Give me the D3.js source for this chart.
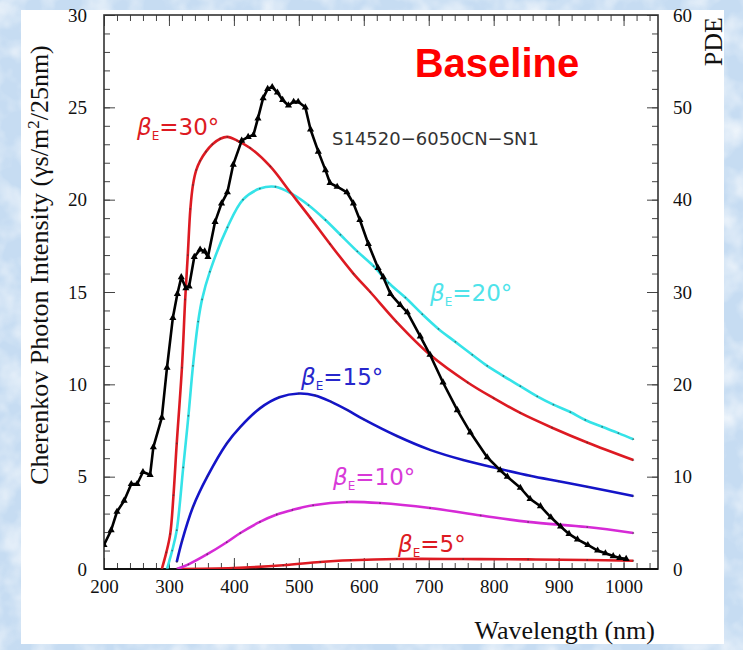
<!DOCTYPE html>
<html>
<head>
<meta charset="utf-8">
<script src="https://cdn.jsdelivr.net/npm/d3@7"></script>
<style>
  html, body { margin: 0; padding: 0; background: #cfe2f4; }
  svg { display: block; }
</style>
</head>
<body>
<svg id="chart" width="743" height="650"></svg>
<script>
// Wavelength tick values (nm)
const wavelengthMajor = [200, 300, 400, 500, 600, 700, 800, 900, 1000];
const intensityMajor = [0, 5, 10, 15, 20, 25, 30];
const pdeMajor = [0, 10, 20, 30, 40, 50, 60];

// Cherenkov photon intensity per elevation angle: [wavelength nm, photons/m2/25nm]
const beta30 = [[289,0],[296,0.9],[302,1.9],[307,4.0],[312,6.8],[320,10.9],[325,14.6],[329,17.0],[333,19.5],[337,20.8],[342,21.6],[348,22.1],[357,22.6],[367,23.0],[379,23.3],[390,23.4],[405,23.2],[425,22.8],[456,21.8],[487,20.4],[518,19.0],[548,17.6],[584,16.0],[610,15.0],[650,13.4],[702,11.6],[760,10.1],[800,9.25],[841,8.45],[890,7.65],[944,6.85],[1015,5.9]];
const beta20 = [[297,0],[305,1.0],[312,2.1],[322,5.5],[330,8.3],[337,11.0],[345,13.4],[351,14.6],[363,16.1],[390,18.5],[414,20.0],[440,20.6],[464,20.7],[490,20.3],[515,19.7],[541,18.9],[564,18.1],[590,17.2],[615,16.4],[638,15.5],[664,14.7],[690,13.8],[715,13.0],[741,12.3],[767,11.6],[790,11.0],[815,10.45],[841,9.9],[867,9.35],[892,8.9],[918,8.5],[941,8.07],[967,7.7],[992,7.36],[1015,7.03]];
const beta15 = [[312,0.38],[320,1.5],[337,3.36],[359,5.0],[389,6.8],[410,7.7],[440,8.7],[470,9.3],[500,9.5],[525,9.4],[550,9.05],[575,8.6],[600,8.1],[651,7.2],[702,6.45],[753,5.9],[806,5.45],[856,5.05],[900,4.75],[944,4.45],[1015,3.95]];
const beta10 = [[312,0],[330,0.25],[359,0.8],[389,1.45],[410,1.95],[440,2.55],[466,2.95],[490,3.2],[522,3.45],[574,3.63],[625,3.57],[702,3.3],[780,2.9],[853,2.55],[944,2.27],[1015,1.95]];
const beta5 = [[312,0],[399,0.05],[476,0.2],[533,0.38],[580,0.47],[651,0.54],[753,0.54],[853,0.52],[944,0.49],[1015,0.45]];

// Photon detection efficiency of S14520-6050CN-SN1: [wavelength nm, PDE %]
const pde = [[200,2.6],[211,4.2],[220,6.2],[231,7.4],[242,9.2],[251,9.2],[260,10.5],[271,10.2],[276,13.2],[289,16.4],[297,21.8],[306,27.2],[313,29.8],[319,31.6],[326,30.4],[331,30.6],[339,33.8],[348,34.6],[355,34.4],[360,33.8],[371,37.6],[381,39.6],[390,40.8],[399,43.8],[412,46.4],[422,46.8],[430,47.0],[437,48.8],[445,51.0],[452,52.0],[459,52.2],[467,51.6],[475,50.8],[484,50.2],[492,50.6],[499,50.6],[510,50.0],[518,47.6],[530,45.2],[541,43.2],[548,41.8],[559,41.4],[574,40.8],[584,39.6],[594,37.8],[607,35.2],[622,32.6],[630,31.6],[641,29.8],[656,28.6],[667,27.8],[687,25.2],[702,23.2],[722,20.2],[744,17.2],[764,14.8],[790,12.1],[810,10.7],[821,10.0],[841,8.8],[856,7.6],[872,6.8],[888,5.6],[903,4.6],[916,3.8],[929,3.2],[945,2.6],[960,2.0],[972,1.7],[984,1.4],[994,1.2],[1004,1.1]];

const svg = d3.select("#chart");
const W = 743, H = 650;
const m = { left: 104, right: 658, top: 15, bottom: 569 };

// textured light-blue backdrop
const defs = svg.append("defs");
const tex = defs.append("filter").attr("id", "paper").attr("x", 0).attr("y", 0).attr("width", 1).attr("height", 1);
tex.append("feTurbulence").attr("type", "fractalNoise").attr("baseFrequency", 0.035).attr("numOctaves", 3).attr("seed", 4).attr("result", "n");
tex.append("feColorMatrix").attr("in", "n").attr("type", "matrix")
  .attr("values", "0 0 0 0 1  0 0 0 0 1  0 0 0 0 1  1.6 0 0 0 -0.62");
svg.append("rect").attr("width", W).attr("height", H).attr("fill", "#c6dcf2");
svg.append("rect").attr("width", W).attr("height", H).attr("filter", "url(#paper)").attr("opacity", 0.85);

// white chart panel
svg.append("rect").attr("x", 21).attr("y", 10).attr("width", 703).attr("height", 634).attr("fill", "#fff");

const x = d3.scaleLinear().domain([200, 1053]).range([m.left, m.right]);
const y = d3.scaleLinear().domain([0, 30]).range([m.bottom, m.top]);
const y2 = d3.scaleLinear().domain([0, 60]).range([m.bottom, m.top]);

defs.append("clipPath").attr("id", "plot").append("rect")
  .attr("x", m.left).attr("y", m.top).attr("width", m.right - m.left).attr("height", m.bottom - m.top);

const serif = "'Liberation Serif', 'Times New Roman', serif";
const minorX = d3.range(200, 1053, 20);
const minorY = d3.range(0, 30.01, 1);
const minorY2 = d3.range(0, 60.01, 2);

function styleAxis(g, withText) {
  g.select(".domain").remove();
  g.selectAll("line").attr("stroke", "#444").attr("stroke-width", 1);
  g.selectAll("text").attr("font-family", serif).attr("font-size", 19).attr("fill", "#111");
  if (!withText) g.selectAll("text").remove();
}

// bottom axis
svg.append("g").attr("transform", `translate(0,${m.bottom})`)
  .call(d3.axisBottom(x).tickValues(minorX).tickSize(-6).tickFormat(""))
  .call(g => styleAxis(g, false));
svg.append("g").attr("transform", `translate(0,${m.bottom})`)
  .call(d3.axisBottom(x).tickValues(wavelengthMajor).tickSize(-11).tickPadding(11).tickFormat(d3.format("d")))
  .call(g => styleAxis(g, true));
// top axis
svg.append("g").attr("transform", `translate(0,${m.top})`)
  .call(d3.axisTop(x).tickValues(minorX).tickSize(-6).tickFormat(""))
  .call(g => styleAxis(g, false));
svg.append("g").attr("transform", `translate(0,${m.top})`)
  .call(d3.axisTop(x).tickValues(wavelengthMajor).tickSize(-11).tickFormat(""))
  .call(g => styleAxis(g, false));
// left axis
svg.append("g").attr("transform", `translate(${m.left},0)`)
  .call(d3.axisLeft(y).tickValues(minorY).tickSize(-6).tickFormat(""))
  .call(g => styleAxis(g, false));
svg.append("g").attr("transform", `translate(${m.left},0)`)
  .call(d3.axisLeft(y).tickValues(intensityMajor).tickSize(-11).tickPadding(17).tickFormat(d3.format("d")))
  .call(g => styleAxis(g, true));
// right axis (PDE)
svg.append("g").attr("transform", `translate(${m.right},0)`)
  .call(d3.axisRight(y2).tickValues(minorY2).tickSize(-6).tickFormat(""))
  .call(g => styleAxis(g, false));
svg.append("g").attr("transform", `translate(${m.right},0)`)
  .call(d3.axisRight(y2).tickValues(pdeMajor).tickSize(-11).tickPadding(15).tickFormat(d3.format("d")))
  .call(g => styleAxis(g, true));

// frame
svg.append("rect").attr("x", m.left).attr("y", m.top)
  .attr("width", m.right - m.left).attr("height", m.bottom - m.top)
  .attr("fill", "none").attr("stroke", "#333").attr("stroke-width", 1.6);
svg.append("line").attr("x1", m.left).attr("x2", m.right).attr("y1", m.bottom).attr("y2", m.bottom)
  .attr("stroke", "#111").attr("stroke-width", 2.2);

const plot = svg.append("g").attr("clip-path", "url(#plot)");

const smooth = d3.line().x(d => x(d[0])).y(d => y(d[1])).curve(d3.curveCatmullRom.alpha(0.5));
const series = [
  { data: beta5, color: "#dd1a22" },
  { data: beta10, color: "#d62ad6" },
  { data: beta15, color: "#1414c8" },
  { data: beta20, color: "#35e3e8" },
  { data: beta30, color: "#dd1a22" }
];
series.forEach(s => {
  plot.append("path").datum(s.data).attr("d", smooth)
    .attr("fill", "none").attr("stroke", s.color).attr("stroke-width", 2.6)
    .attr("stroke-linejoin", "round");
  plot.append("g").selectAll("circle").data(s.data).join("circle")
    .attr("cx", d => x(d[0])).attr("cy", d => y(d[1])).attr("r", 0.9)
    .attr("fill", "#333").attr("opacity", 0.6);
});

// PDE curve with triangle markers
const pdeLine = d3.line().x(d => x(d[0])).y(d => y2(d[1]));
plot.append("path").datum(pde).attr("d", pdeLine)
  .attr("fill", "none").attr("stroke", "#000").attr("stroke-width", 2.6).attr("stroke-linejoin", "round");
plot.append("g").selectAll("path").data(pde).join("path")
  .attr("transform", d => `translate(${x(d[0])},${y2(d[1])})`)
  .attr("d", d3.symbol(d3.symbolTriangle, 22))
  .attr("fill", "#000");

// axis titles
svg.append("text")
  .attr("transform", "translate(48,265) rotate(-90)")
  .attr("text-anchor", "middle")
  .attr("font-family", serif).attr("font-size", 26).attr("fill", "#111")
  .html("Cherenkov Photon Intensity (γs/m<tspan baseline-shift='super' font-size='17'>2</tspan>/25nm)");
svg.append("text").attr("x", 655).attr("y", 639).attr("text-anchor", "end")
  .attr("font-family", serif).attr("font-size", 26).attr("fill", "#111")
  .text("Wavelength (nm)");
svg.append("text")
  .attr("transform", "translate(722,17) rotate(-90)")
  .attr("text-anchor", "end")
  .attr("font-family", serif).attr("font-size", 26).attr("fill", "#111")
  .text("PDE");

// titles inside the plot
svg.append("text").attr("x", 497).attr("y", 77).attr("text-anchor", "middle")
  .attr("font-family", "'Liberation Sans', Arial, sans-serif").attr("font-weight", "bold")
  .attr("font-size", 40).attr("fill", "#ff0000").text("Baseline");
svg.append("text").attr("x", 332).attr("y", 145)
  .attr("font-family", "'DejaVu Sans', sans-serif").attr("font-size", 18).attr("fill", "#333")
  .text("S14520\u22126050CN\u2212SN1");

// elevation-angle labels
const angleLabels = [
  { text: "30°", x: 137, y: 135, color: "#dd1a22" },
  { text: "20°", x: 430, y: 301, color: "#4fe3ea" },
  { text: "15°", x: 301, y: 385, color: "#2727cc" },
  { text: "10°", x: 333, y: 485, color: "#d83ad8" },
  { text: "5°", x: 398, y: 552, color: "#dd1a22" }
];
angleLabels.forEach(l => {
  const t = svg.append("text").attr("x", l.x).attr("y", l.y)
    .attr("font-family", "'DejaVu Sans', sans-serif").attr("font-size", 23).attr("fill", l.color);
  t.append("tspan").attr("font-style", "italic").text("β");
  t.append("tspan").attr("font-size", 12).attr("dy", 5).text("E");
  t.append("tspan").attr("dy", -5).text("=" + l.text);
});
</script>
</body>
</html>
